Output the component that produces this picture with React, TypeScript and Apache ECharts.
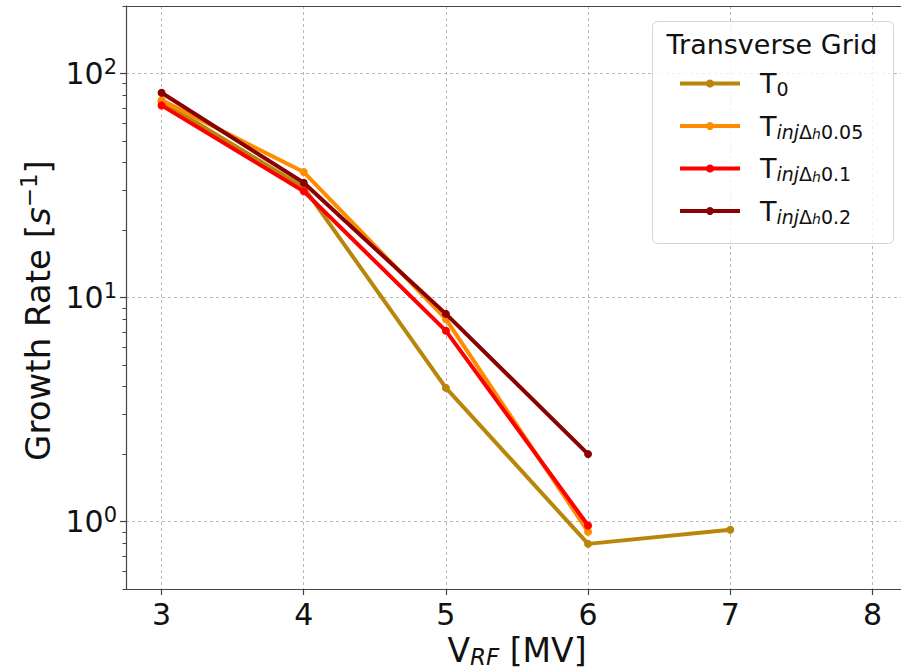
import React, { useEffect, useRef } from "react";
import * as echarts from "echarts";

// ---- data ----
const vrf = [3, 4, 5, 6, 7];
const seriesNames = ["T0", "T0.05", "T0.1", "T0.2"];
const t0 = [75, 31, 3.95, 0.795, 0.92];
const t005 = [76, 36.3, 8.0, 0.9];
const t01 = [72, 29.8, 7.1, 0.96];
const t02 = [82, 32.5, 8.45, 2.0];
const seriesValues = [t0, t005, t01, t02];
const seriesColors = ["#b8860b", "#ff8c00", "#ff0000", "#8b0000"];
const legendSuffixes = ["0", "0.05", "0.1", "0.2"];
const xTicks = [3, 4, 5, 6, 7, 8];
const yMajorTicks = [1, 10, 100];
const yMinorTicks = [
  0.5, 0.6, 0.7, 0.8, 0.9, 2, 3, 4, 5, 6, 7, 8, 9, 20, 30, 40, 50, 60, 70, 80,
  90, 200,
];
const legendTitle = "Transverse Grid";
const xName = ["V", "RF", " [MV]"];
const yName = ["Growth Rate [", "s", "\u22121", "]"];

const FONT = "DejaVu Sans";
const AXIS_COLOR = "#444";
const TEXT_COLOR = "#111";

export default function App() {
  const ref = useRef<HTMLDivElement>(null);

  useEffect(() => {
    document.body.style.margin = "0";
    const chart = echarts.init(ref.current!, null, { renderer: "svg" });

    const series = seriesNames.map((name, i) => ({
      name,
      type: "line",
      xAxisIndex: 0,
      yAxisIndex: 0,
      data: seriesValues[i].map((v, j) => [vrf[j], v]),
      symbol: "circle",
      symbolSize: 8,
      showSymbol: true,
      itemStyle: { color: seriesColors[i] },
      lineStyle: { color: seriesColors[i], width: 4 },
      z: 2 + i,
    }));

    const option: any = {
      animation: false,
      backgroundColor: "#fff",
      textStyle: { fontFamily: FONT },
      grid: {
        left: 126,
        top: 6,
        width: 782,
        height: 583,
        containLabel: false,
        outerBoundsMode: "none",
      },
      xAxis: [
        {
          type: "value",
          min: 2.75,
          max: 8.25,
          position: "bottom",
          axisLine: { show: true, onZero: false, lineStyle: { color: AXIS_COLOR, width: 1.2 } },
          axisTick: {
            show: true,
            customValues: xTicks,
            length: 6,
            lineStyle: { color: AXIS_COLOR, width: 1.2 },
          },
          axisLabel: {
            customValues: xTicks,
            fontSize: 30,
            fontFamily: FONT,
            color: TEXT_COLOR,
            margin: 10,
          },
          splitLine: {
            show: true,
            lineStyle: { color: "#b8b8b8", type: [3, 3], width: 1 },
          },
          name: `{v|${xName[0]}}{s|${xName[1]}}{v|${xName[2]}}`,
          nameLocation: "middle",
          nameGap: 38,
          nameTextStyle: {
            rich: {
              v: { fontSize: 33, fontFamily: FONT, color: TEXT_COLOR, lineHeight: 36, verticalAlign: "middle" },
              s: { fontSize: 23, fontFamily: FONT, fontStyle: "italic", color: TEXT_COLOR, lineHeight: 22, verticalAlign: "bottom" },
            },
          },
        },
        {
          type: "value",
          min: 2.75,
          max: 8.25,
          position: "top",
          axisLine: { show: true, onZero: false, lineStyle: { color: AXIS_COLOR, width: 1.2 } },
          axisTick: { show: false },
          axisLabel: { show: false },
          splitLine: { show: false },
        },
      ],
      yAxis: [
        {
          type: "log",
          logBase: 10,
          min: 0.5,
          max: 200,
          position: "left",
          axisLine: { show: true, onZero: false, lineStyle: { color: AXIS_COLOR, width: 1.2 } },
          axisTick: {
            show: true,
            customValues: yMajorTicks,
            length: 6,
            lineStyle: { color: AXIS_COLOR, width: 1.2 },
          },
          axisLabel: {
            customValues: yMajorTicks,
            margin: 9,
            formatter: (v: number) => `{b|10}{e|${Math.round(Math.log10(v))}}`,
            rich: {
              b: { fontSize: 30, fontFamily: FONT, color: TEXT_COLOR, lineHeight: 34, verticalAlign: "middle" },
              e: { fontSize: 21, fontFamily: FONT, color: TEXT_COLOR, lineHeight: 14, verticalAlign: "top" },
            },
          },
          splitLine: {
            show: true,
            lineStyle: { color: "#b8b8b8", type: [3, 3], width: 1 },
          },
          minorTick: { show: false },
          name: `{v|${yName[0]}}{i|${yName[1]}}{s|${yName[2]}}{v|${yName[3]}}`,
          nameLocation: "middle",
          nameGap: 64,
          nameRotate: 90,
          nameTextStyle: {
            padding: [0, 26, 0, 0],
            rich: {
              v: { fontSize: 34, fontFamily: FONT, color: TEXT_COLOR, lineHeight: 40, verticalAlign: "middle" },
              i: { fontSize: 34, fontFamily: FONT, fontStyle: "italic", color: TEXT_COLOR, lineHeight: 40, verticalAlign: "middle" },
              s: { fontSize: 23, fontFamily: FONT, color: TEXT_COLOR, lineHeight: 18, verticalAlign: "top" },
            },
          },
        },
        {
          type: "log",
          logBase: 10,
          min: 0.5,
          max: 200,
          position: "left",
          axisLine: { show: false },
          axisTick: {
            show: true,
            customValues: yMinorTicks,
            length: 3.5,
            lineStyle: { color: AXIS_COLOR, width: 1 },
          },
          axisLabel: { show: false },
          splitLine: { show: false },
        },
      ],
      legend: {
        data: seriesNames,
        orient: "vertical",
        left: 678,
        top: 70,
        padding: 0,
        itemWidth: 60,
        itemHeight: 10,
        itemGap: 14,
        z: 10,
        lineStyle: { width: 4 },
        formatter: (name: string) => {
          const i = seriesNames.indexOf(name);
          if (i === 0) return `{T|T}{sub|${legendSuffixes[0]}}`;
          return `{T|T}{subi|inj}{sub|\u0394}{subh|h}{sub|${legendSuffixes[i]}}`;
        },
        textStyle: {
          fontFamily: FONT,
          color: TEXT_COLOR,
          rich: {
            T: { fontSize: 27, fontFamily: FONT, color: TEXT_COLOR, lineHeight: 30, verticalAlign: "middle", padding: [0, 0, 0, 15] },
            sub: { fontSize: 19, fontFamily: FONT, color: TEXT_COLOR, lineHeight: 19, verticalAlign: "bottom" },
            subi: { fontSize: 19, fontFamily: FONT, fontStyle: "italic", color: TEXT_COLOR, lineHeight: 19, verticalAlign: "bottom" },
            subh: { fontSize: 14, fontFamily: FONT, fontStyle: "italic", color: TEXT_COLOR, lineHeight: 12, verticalAlign: "bottom" },
          },
        },
      },
      graphic: [
        {
          type: "rect",
          z: 5,
          shape: { x: 652.5, y: 21.5, width: 241, height: 222, r: 5 },
          style: { fill: "rgba(255,255,255,0.8)", stroke: "#d4d4d4", lineWidth: 1 },
        },
        {
          type: "text",
          z: 6,
          x: 772,
          y: 44,
          style: {
            text: legendTitle,
            fontSize: 27,
            fontFamily: FONT,
            fill: TEXT_COLOR,
            align: "center",
            verticalAlign: "middle",
          },
        },
      ],
      series,
    };

    chart.setOption(option);
    return () => chart.dispose();
  }, []);

  return (
    <div
      ref={ref}
      style={{ position: "fixed", left: 0, top: 0, width: 901, height: 672, background: "#fff" }}
    />
  );
}
